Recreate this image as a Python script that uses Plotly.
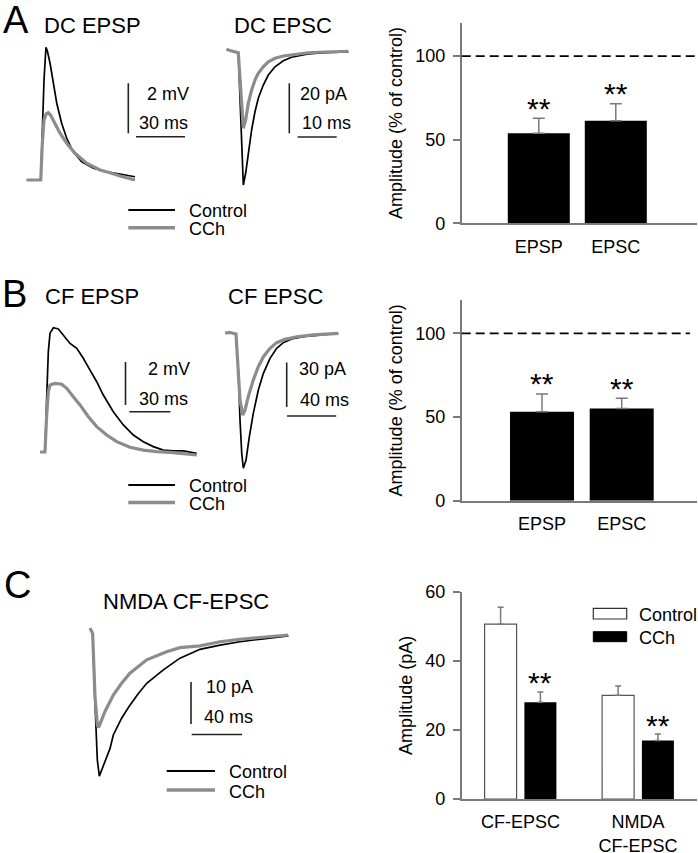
import plotly.graph_objects as go

W, H = 698, 853
FONT = "Liberation Sans, Arial, Helvetica, sans-serif"
BLACK = "#000000"
GRAY = "#8c8c8c"
AXGRAY = "#7a7a7a"

# ---------------- DATA ----------------
# A: DC EPSP (time ms, mV)
dc_epsp_t_ctrl = [0, 4.0, 8.6, 9.6, 10.6, 11.8, 12.7, 14.3, 16.3, 18.4, 21.4, 24.5, 28.5, 33.7, 40.8, 49.0, 57.1, 66.3]
dc_epsp_v_ctrl = [0.0, 0.0, 0.0, 2.0, 4.0, 5.31, 5.15, 4.67, 3.87, 3.07, 2.27, 1.67, 1.13, 0.73, 0.47, 0.33, 0.24, 0.13]
dc_epsp_t_cch = [0, 4.0, 8.6, 9.6, 10.6, 12.0, 13.2, 14.6, 16.3, 20.4, 24.5, 29.6, 36.7, 44.9, 51.0, 57.1, 66.3]
dc_epsp_v_cch = [0.0, 0.0, 0.0, 1.5, 2.4, 2.65, 2.69, 2.6, 2.4, 1.87, 1.47, 1.07, 0.67, 0.40, 0.29, 0.16, 0.0]

# A: DC EPSC (time ms, pA)
dc_epsc_t_ctrl = [-0.4, 0, 2.56, 3.2, 3.85, 4.45, 5.13, 5.98, 6.84, 7.69, 8.97, 10.26, 11.97, 14.1, 16.2, 20.5, 24.8, 30.8]
dc_epsc_i_ctrl = [0.4, 0.0, -1.1, -28.0, -54.0, -49.3, -41.3, -32.0, -24.7, -19.3, -14.0, -10.0, -6.7, -4.3, -2.9, -1.6, -1.1, -0.8]
dc_epsc_t_cch = [-0.4, 0, 2.56, 3.2, 3.85, 4.45, 5.13, 5.98, 6.84, 7.69, 8.97, 10.26, 11.97, 14.1, 16.2, 20.5, 24.8, 30.8]
dc_epsc_i_cch = [0.4, 0.0, -1.1, -17.0, -31.3, -28.0, -21.3, -16.0, -12.0, -9.3, -6.7, -4.7, -3.3, -2.4, -1.9, -1.1, -0.8, -0.5]

# B: CF EPSP (time ms, mV)
cf_epsp_t_ctrl = [0, 3.65, 4.87, 6.08, 7.3, 9.73, 13.4, 17.0, 21.9, 26.8, 31.6, 36.5, 41.4, 46.2, 53.5, 60.8, 68.1, 75.4, 82.7, 90.0, 97.3, 104.6, 114.4]
cf_epsp_v_ctrl = [0, 0, 2.5, 4.67, 5.52, 5.78, 5.72, 5.44, 5.05, 4.82, 4.36, 3.81, 3.27, 2.65, 1.87, 1.26, 0.79, 0.48, 0.25, 0.09, 0.05, 0.05, -0.06]
cf_epsp_t_cch = [0, 3.65, 4.87, 6.08, 7.3, 10.9, 15.8, 19.5, 24.3, 29.2, 35.3, 41.4, 48.7, 56.0, 65.7, 75.4, 85.2, 94.9, 114.4]
cf_epsp_v_cch = [0, 0, 1.72, 2.81, 3.12, 3.19, 3.15, 2.96, 2.57, 2.19, 1.64, 1.18, 0.79, 0.48, 0.22, 0.09, 0.02, -0.02, -0.14]

# B: CF EPSC (time ms, pA)
cf_epsc_t_ctrl = [0, 4.07, 8.94, 10.8, 12.2, 13.6, 14.9, 17.1, 19.8, 23.0, 27.1, 31.2, 36.6, 42.0, 47.4, 54.2, 63.7, 77.2, 92.1]
cf_epsc_i_ctrl = [0, 0.5, -0.7, -24.9, -58.7, -81.1, -91.2, -85.6, -69.9, -54.2, -38.4, -27.2, -17.1, -10.3, -6.5, -4.0, -2.5, -1.3, -0.2]
cf_epsc_t_cch = [0, 4.07, 8.94, 10.8, 12.2, 14.4, 16.3, 18.9, 23.0, 27.1, 31.2, 36.6, 42.0, 48.8, 58.3, 71.8, 92.1]
cf_epsc_i_cch = [0, 0.3, -0.7, -24.9, -45.2, -55.3, -51.9, -42.9, -31.7, -22.7, -16.0, -10.3, -6.5, -4.3, -2.5, -1.3, -0.2]

# C: NMDA CF-EPSC (time ms, pA)
nmda_t_ctrl = [0, 2.1, 3.97, 5.82, 7.41, 9.26, 11.9, 15.9, 18.5, 25.1, 31.7, 38.4, 45.0, 58.2, 71.4, 87.3, 103.2, 119.0, 137.6, 157.4]
nmda_i_ctrl = [0, -1.2, -17.9, -31.4, -35.2, -33.7, -31.4, -28.6, -25.4, -21.4, -18.3, -15.5, -13.1, -9.9, -7.1, -5.0, -4.0, -3.2, -2.5, -1.8]
nmda_t_cch = [0, 2.1, 3.97, 5.82, 6.88, 9.26, 11.9, 18.5, 25.1, 31.7, 45.0, 60.8, 71.4, 87.3, 103.2, 119.0, 137.6, 157.4]
nmda_i_cch = [0, -1.2, -16.3, -23.0, -23.6, -21.8, -19.8, -15.9, -13.1, -10.7, -7.5, -5.6, -4.6, -4.2, -3.2, -2.6, -2.1, -1.6]

# Scale bars (time, amplitude)
scale_a_epsp = (30, 2)    # ms, mV
scale_a_epsc = (10, 20)   # ms, pA
scale_b_epsp = (30, 2)
scale_b_epsc = (40, 30)
scale_c = (40, 10)

# Bar charts
ab_categories = ["EPSP", "EPSC"]
a_values = [53.8, 61.3]
a_errors = [9.0, 10.2]
b_values = [53.2, 55.2]
b_errors = [10.6, 6.0]
ab_ticks = [0, 50, 100]
ab_range = [0, 120]
c_categories = ["CF-EPSC", "NMDA<br>CF-EPSC"]
c_control = [50.6, 30.0]
c_control_err = [4.9, 2.7]
c_cch = [28.0, 16.9]
c_cch_err = [3.0, 1.9]
c_ticks = [0, 20, 40, 60]
c_range = [0, 60]
significance = "**"

# ---------------- LAYOUT HELPERS ----------------
def fx(p):
    return p / W

def fy(p):
    return 1 - p / H

fig = go.Figure()
layout = dict(
    width=W, height=H, autosize=False,
    margin=dict(l=0, r=0, t=0, b=0),
    paper_bgcolor="white", plot_bgcolor="rgba(0,0,0,0)",
    showlegend=False, font=dict(family=FONT, color=BLACK, size=18),
    barmode="overlay",
)
shapes = []
annotations = []


def ax_name(i, kind):
    return f"{kind}axis" + ("" if i == 1 else str(i))


def ref(i, kind):
    return kind + ("" if i == 1 else str(i))


def trace_panel(i, box, origin, scale):
    l, r, t, b = box
    ox, oy = origin
    sx, sy = scale
    layout[ax_name(i, "x")] = dict(domain=[fx(l), fx(r)], range=[(l - ox) / sx, (r - ox) / sx],
                                   visible=False, fixedrange=True, anchor=ref(i, "y"))
    layout[ax_name(i, "y")] = dict(domain=[fy(b), fy(t)], range=[(oy - b) / sy, (oy - t) / sy],
                                   visible=False, fixedrange=True, anchor=ref(i, "x"))
    return (ox, oy, sx, sy)


def add_traces(i, tc, vc, tg, vg):
    fig.add_trace(go.Scatter(x=tc, y=vc, mode="lines", line=dict(color=BLACK, width=1.7),
                             xaxis=ref(i, "x"), yaxis=ref(i, "y"), name="Control"))
    fig.add_trace(go.Scatter(x=tg, y=vg, mode="lines", line=dict(color=GRAY, width=3.2),
                             xaxis=ref(i, "x"), yaxis=ref(i, "y"), name="CCh"))


def scale_bars(i, m, sc, vbar, hbar):
    ox, oy, sx, sy = m
    tv = (vbar[0] - ox) / sx
    vb = (oy - vbar[1]) / sy
    th = (hbar[0] - ox) / sx
    vh = (oy - hbar[1]) / sy
    xr, yr = ref(i, "x"), ref(i, "y")
    shapes.append(dict(type="line", xref=xr, yref=yr, x0=tv, x1=tv, y0=vb, y1=vb + sc[1],
                       line=dict(color="#222", width=1.6)))
    shapes.append(dict(type="line", xref=xr, yref=yr, x0=th, x1=th + sc[0], y0=vh, y1=vh,
                       line=dict(color="#222", width=1.6)))


def txt(text, x, y, size=18, xanchor="center"):
    annotations.append(dict(text=text, x=fx(x), y=fy(y), xref="paper", yref="paper",
                            xanchor=xanchor, yanchor="middle", showarrow=False,
                            font=dict(family=FONT, size=size, color=BLACK)))


def trace_legend(x0, x1, yc, yg, tx):
    shapes.append(dict(type="line", xref="paper", yref="paper", x0=fx(x0), x1=fx(x1),
                       y0=fy(yc), y1=fy(yc), line=dict(color=BLACK, width=2)))
    shapes.append(dict(type="line", xref="paper", yref="paper", x0=fx(x0), x1=fx(x1),
                       y0=fy(yg), y1=fy(yg), line=dict(color=GRAY, width=3.5)))
    txt("Control", tx, yc + 1, xanchor="left")
    txt("CCh", tx, yg + 1.5, xanchor="left")


# ---------------- TRACES ----------------
m1 = trace_panel(1, (15, 200, 40, 195), (26.7, 180), (1.633, 25))
add_traces(1, dc_epsp_t_ctrl, dc_epsp_v_ctrl, dc_epsp_t_cch, dc_epsp_v_cch)
scale_bars(1, m1, scale_a_epsp, (128.3, 133.3), (136, 136.7))

m2 = trace_panel(2, (220, 352, 40, 195), (228.3, 50), (3.9, 2.5))
add_traces(2, dc_epsc_t_ctrl, dc_epsc_i_ctrl, dc_epsc_t_cch, dc_epsc_i_cch)
scale_bars(2, m2, scale_a_epsc, (289.3, 133.3), (297.7, 137))

m4 = trace_panel(4, (30, 205, 315, 465), (40, 452), (1.37, 21.5))
add_traces(4, cf_epsp_t_ctrl, cf_epsp_v_ctrl, cf_epsp_t_cch, cf_epsp_v_cch)
scale_bars(4, m4, scale_b_epsp, (125.5, 405), (129.3, 411.7))

m5 = trace_panel(5, (215, 352, 320, 475), (225, 333), (1.23, 1.483))
add_traces(5, cf_epsc_t_ctrl, cf_epsc_i_ctrl, cf_epsc_t_cch, cf_epsc_i_cch)
scale_bars(5, m5, scale_b_epsc, (286.7, 407), (287, 416))

m7 = trace_panel(7, (80, 300, 615, 795), (90, 628.3), (1.26, 4.2))
add_traces(7, nmda_t_ctrl, nmda_i_ctrl, nmda_t_cch, nmda_i_cch)
scale_bars(7, m7, scale_c, (191, 724), (191.7, 734.5))

# ---------------- BAR CHARTS ----------------
def bar_axes(i, x_left_px, x_right_px, y_bottom_px, y_top_px, xr, yr, tickvals, ticktext, yticks, ytitle):
    layout[ax_name(i, "x")] = dict(
        domain=[fx(x_left_px), fx(x_right_px)], range=xr, anchor=ref(i, "y"),
        showline=True, linecolor=AXGRAY, linewidth=1.5, ticks="", tickvals=tickvals, ticktext=ticktext,
        showgrid=False, zeroline=False, fixedrange=True, automargin=False,
        tickfont=dict(family=FONT, size=18, color=BLACK), ticklabelstandoff=6)
    layout[ax_name(i, "y")] = dict(
        domain=[fy(y_bottom_px), fy(y_top_px)], range=yr, anchor=ref(i, "x"),
        showline=True, linecolor=AXGRAY, linewidth=1.5, ticks="outside", ticklen=7,
        tickcolor=AXGRAY, tickwidth=1.5, tickvals=yticks, showgrid=False, zeroline=False,
        fixedrange=True, automargin=False, ticklabelstandoff=4,
        tickfont=dict(family=FONT, size=18, color=BLACK),
        title=dict(text=ytitle, font=dict(family=FONT, size=18, color=BLACK), standoff=8))


def stars(i, xs, tops, shift=9):
    for x, t in zip(xs, tops):
        annotations.append(dict(text=significance, x=x, y=t, xref=ref(i, "x"), yref=ref(i, "y"),
                                xanchor="center", yanchor="middle", yshift=shift + 1, showarrow=False,
                                font=dict(family=FONT, size=30, color=BLACK)))


pos_ab = list(range(len(ab_categories)))

# A bar chart
bar_axes(3, 461.7, 697, 223.3, 22.7, [(461.7 - 538.8) / 77, (697 - 538.8) / 77], ab_range,
         pos_ab, ab_categories, ab_ticks, "Amplitude (% of control)")
fig.add_trace(go.Bar(x=pos_ab, y=a_values, width=62 / 77, marker=dict(color=BLACK, line=dict(width=0)),
                     error_y=dict(type="data", array=a_errors, arrayminus=[0] * len(a_errors), symmetric=False,
                                  color=AXGRAY, thickness=1.5, width=6),
                     xaxis="x3", yaxis="y3"))
shapes.append(dict(type="line", xref="x3 domain", yref="y3", x0=0, x1=1, y0=100, y1=100,
                   line=dict(color=BLACK, width=1.8, dash="9px,5px")))
stars(3, pos_ab, [v + e for v, e in zip(a_values, a_errors)])

# B bar chart
bar_axes(6, 461.7, 697, 500.7, 300, [(461.7 - 542) / 79.7, (697 - 542) / 79.7], ab_range,
         pos_ab, ab_categories, ab_ticks, "Amplitude (% of control)")
fig.add_trace(go.Bar(x=pos_ab, y=b_values, width=64 / 79.7, marker=dict(color=BLACK, line=dict(width=0)),
                     error_y=dict(type="data", array=b_errors, arrayminus=[0] * len(b_errors), symmetric=False,
                                  color=AXGRAY, thickness=1.5, width=6),
                     xaxis="x6", yaxis="y6"))
shapes.append(dict(type="line", xref="x6 domain", yref="y6", x0=0, x1=0.97, y0=100, y1=100,
                   line=dict(color=BLACK, width=1.8, dash="9px,5px")))
stars(6, pos_ab, [v + e for v, e in zip(b_values, b_errors)])

# C bar chart
unit = 117.5
pos_c = list(range(len(c_categories)))
bar_axes(8, 461.7, 697, 799, 591.7, [(461.7 - 520.5) / unit, (697 - 520.5) / unit], c_range,
         pos_c, c_categories, c_ticks, "Amplitude (pA)")
bw = 32 / unit
fig.add_trace(go.Bar(x=pos_c, y=c_control, width=bw, offset=-(19.9 + 16) / unit,
                     marker=dict(color="white", line=dict(color="#555", width=1.2)),
                     error_y=dict(type="data", array=c_control_err, arrayminus=[0] * 2, symmetric=False,
                                  color=AXGRAY, thickness=1.5, width=3),
                     xaxis="x8", yaxis="y8", name="Control"))
fig.add_trace(go.Bar(x=pos_c, y=c_cch, width=bw, offset=(19.9 - 16) / unit,
                     marker=dict(color=BLACK, line=dict(width=0)),
                     error_y=dict(type="data", array=c_cch_err, arrayminus=[0] * 2, symmetric=False,
                                  color=AXGRAY, thickness=1.5, width=3),
                     xaxis="x8", yaxis="y8", name="CCh"))
stars(8, [p + 19.9 / unit for p in pos_c], [v + e for v, e in zip(c_cch, c_cch_err)], shift=8)

# C bar legend
shapes.append(dict(type="rect", xref="paper", yref="paper", x0=fx(593.3), x1=fx(626.7),
                   y0=fy(619), y1=fy(608.3), fillcolor="white", line=dict(color="#333", width=1.2)))
shapes.append(dict(type="rect", xref="paper", yref="paper", x0=fx(593.3), x1=fx(626.7),
                   y0=fy(641.7), y1=fy(631.7), fillcolor=BLACK, line=dict(color=BLACK, width=1)))
txt("Control", 636.7, 614.5, xanchor="left")
txt("CCh", 636.7, 637.5, xanchor="left")

# ---------------- TEXT ----------------
txt("A", 16, 20, size=38)
txt("DC EPSP", 92.5, 25.5, size=22)
txt("DC EPSC", 282.5, 25.5, size=22)
txt("2 mV", 145, 94.5, xanchor="left")
txt("30 ms", 137.3, 123.5, xanchor="left")
txt("20 pA", 297.7, 94.5, xanchor="left")
txt("10 ms", 300, 123.5, xanchor="left")
trace_legend(128.3, 175, 210, 227.7, 186.7)

txt("B", 15, 294, size=38)
txt("CF EPSP", 91.7, 297, size=22)
txt("CF EPSC", 275, 297, size=22)
txt("2 mV", 145.7, 369.5, xanchor="left")
txt("30 ms", 137.3, 398.5, xanchor="left")
txt("30 pA", 296.7, 369.5, xanchor="left")
txt("40 ms", 297.7, 399.5, xanchor="left")
trace_legend(128.3, 175, 485, 502.5, 186.7)

txt("C", 17, 585, size=38)
txt("NMDA CF-EPSC", 186, 601.5, size=22)
txt("10 pA", 204, 687, xanchor="left")
txt("40 ms", 201.7, 717, xanchor="left")
trace_legend(166.7, 215, 771, 790, 226.7)

layout["shapes"] = shapes
layout["annotations"] = annotations
fig.update_layout(**layout)
fig.write_html(
    "out.html",
    config={"displayModeBar": False},
    post_script="document.body.style.margin='0';document.body.style.padding='0';"
                "document.body.style.overflow='hidden';",
)
